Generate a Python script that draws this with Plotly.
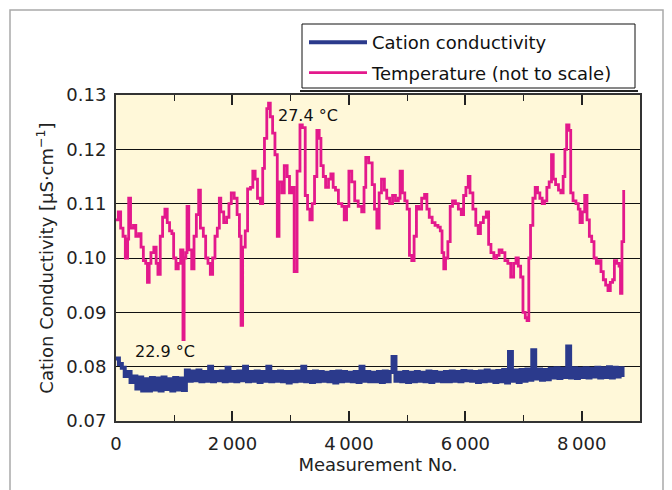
import plotly.graph_objects as go

# ---------------- data ----------------
temp_x = [0, 40, 80, 120, 160, 200, 218, 250, 300, 340, 390, 430, 470, 510, 540, 570, 600, 650, 690, 720,
          760, 800, 840, 880, 920, 960, 990, 1030, 1070, 1110, 1150, 1170, 1200, 1220, 1250, 1300, 1340, 1380, 1420, 1450,
          1500, 1540, 1580, 1620, 1660, 1700, 1740, 1775, 1800, 1850, 1900, 1940, 1980, 2030, 2080, 2120, 2148, 2175, 2220, 2260,
          2310, 2350, 2390, 2430, 2480, 2520, 2550, 2590, 2620, 2650, 2690, 2730, 2770, 2800, 2850, 2890, 2940, 2980, 3020, 3060,
          3110, 3160, 3200, 3250, 3290, 3330, 3370, 3410, 3450, 3490, 3520, 3560, 3600, 3650, 3690, 3730, 3770, 3820, 3880, 3920,
          3960, 4000, 4050, 4100, 4160, 4220, 4260, 4290, 4340, 4400, 4440, 4480, 4520, 4560, 4610, 4650, 4700, 4750, 4800, 4850,
          4880, 4920, 4960, 5000, 5040, 5080, 5120, 5160, 5200, 5250, 5300, 5340, 5380, 5430, 5480, 5530, 5570, 5600, 5630, 5660,
          5700, 5740, 5780, 5830, 5880, 5930, 5970, 6010, 6050, 6080, 6130, 6180, 6220, 6260, 6310, 6360, 6400, 6440, 6490, 6540,
          6580, 6630, 6680, 6730, 6780, 6830, 6870, 6910, 6950, 6990, 7030, 7060, 7090, 7120, 7160, 7200, 7240, 7280, 7320, 7360,
          7400, 7440, 7480, 7510, 7550, 7600, 7640, 7680, 7710, 7740, 7780, 7810, 7850, 7900, 7940, 7970, 8010, 8050, 8090, 8130,
          8170, 8210, 8250, 8290, 8330, 8370, 8410, 8450, 8490, 8530, 8560, 8600, 8640, 8665, 8690, 8720]
temp_y = [0.1070, 0.1085, 0.1055, 0.1040, 0.1000, 0.1035, 0.1110, 0.1055, 0.1060, 0.1040, 0.1045, 0.1020, 0.0995, 0.0990, 0.0955, 0.0990, 0.1010, 0.1020, 0.0990, 0.0970,
          0.1040, 0.1075, 0.1090, 0.1065, 0.1050, 0.1045, 0.1000, 0.0980, 0.0990, 0.1015, 0.0850, 0.1000, 0.1010, 0.1095, 0.1015, 0.0980, 0.1040, 0.1080, 0.1125, 0.1055,
          0.1040, 0.1000, 0.0990, 0.0970, 0.1000, 0.1040, 0.1055, 0.1110, 0.1085, 0.1065, 0.1075, 0.1100, 0.1120, 0.1110, 0.1080, 0.1040, 0.0876, 0.1020, 0.1050, 0.1127,
          0.1130, 0.1160, 0.1145, 0.1110, 0.1100, 0.1165, 0.1220, 0.1275, 0.1285, 0.1260, 0.1230, 0.1190, 0.1040, 0.1140, 0.1120, 0.1170, 0.1150, 0.1120, 0.1130, 0.0975,
          0.1160, 0.1245, 0.1240, 0.1115, 0.1090, 0.1070, 0.1100, 0.1150, 0.1235, 0.1220, 0.1170, 0.1150, 0.1130, 0.1145, 0.1155, 0.1130, 0.1125, 0.1100, 0.1095, 0.1070,
          0.1095, 0.1160, 0.1140, 0.1105, 0.1095, 0.1085, 0.1130, 0.1185, 0.1175, 0.1135, 0.1090, 0.1055, 0.1120, 0.1145, 0.1125, 0.1110, 0.1100, 0.1115, 0.1105, 0.1110,
          0.1160, 0.1120, 0.1105, 0.1090, 0.1005, 0.0995, 0.1040, 0.1095, 0.1090, 0.1110, 0.1117, 0.1090, 0.1075, 0.1065, 0.1060, 0.1057, 0.1050, 0.1010, 0.0980, 0.1000,
          0.1030, 0.1095, 0.1105, 0.1100, 0.1090, 0.1080, 0.1115, 0.1130, 0.1150, 0.1120, 0.1090, 0.1060, 0.1045, 0.1065, 0.1075, 0.1085, 0.1025, 0.1010, 0.1000, 0.1005,
          0.1015, 0.1010, 0.0995, 0.0990, 0.0965, 0.0990, 0.1000, 0.0985, 0.0965, 0.0900, 0.0890, 0.0885, 0.1000, 0.1060, 0.1110, 0.1130, 0.1120, 0.1110, 0.1100, 0.1105,
          0.1130, 0.1140, 0.1190, 0.1145, 0.1135, 0.1125, 0.1120, 0.1150, 0.1200, 0.1245, 0.1235, 0.1120, 0.1105, 0.1100, 0.1090, 0.1065, 0.1085, 0.1115, 0.1070, 0.1040,
          0.1030, 0.1000, 0.0990, 0.0995, 0.0975, 0.0960, 0.0950, 0.0940, 0.0955, 0.0960, 0.0995, 0.0990, 0.0985, 0.0935, 0.1030, 0.1125]

cond_x = list(range(0, 8750, 50))
cond_y = [0.0815, 0.0805, 0.0798, 0.0783, 0.0790, 0.0772, 0.0782, 0.0760, 0.0780, 0.0756,
          0.0777, 0.0756, 0.0779, 0.0758, 0.0778, 0.0756, 0.0780, 0.0759, 0.0777, 0.0756,
          0.0779, 0.0758, 0.0778, 0.0757, 0.0793, 0.0774, 0.0791, 0.0775, 0.0793, 0.0773,
          0.0790, 0.0774, 0.0800, 0.0773, 0.0790, 0.0775, 0.0791, 0.0773, 0.0798, 0.0774,
          0.0790, 0.0773, 0.0791, 0.0775, 0.0800, 0.0773, 0.0790, 0.0774, 0.0791, 0.0772,
          0.0790, 0.0774, 0.0800, 0.0773, 0.0790, 0.0774, 0.0791, 0.0773, 0.0790, 0.0771,
          0.0790, 0.0773, 0.0791, 0.0774, 0.0800, 0.0773, 0.0790, 0.0772, 0.0791, 0.0773,
          0.0790, 0.0774, 0.0789, 0.0773, 0.0790, 0.0771, 0.0791, 0.0773, 0.0790, 0.0774,
          0.0789, 0.0773, 0.0790, 0.0772, 0.0800, 0.0774, 0.0790, 0.0773, 0.0789, 0.0773,
          0.0790, 0.0772, 0.0791, 0.0773, 0.0790, 0.0818, 0.0774, 0.0789, 0.0773, 0.0790,
          0.0772, 0.0789, 0.0773, 0.0790, 0.0774, 0.0789, 0.0773, 0.0791, 0.0772, 0.0790,
          0.0774, 0.0789, 0.0773, 0.0790, 0.0773, 0.0791, 0.0774, 0.0790, 0.0773, 0.0792,
          0.0775, 0.0791, 0.0774, 0.0790, 0.0772, 0.0791, 0.0773, 0.0793, 0.0774, 0.0791,
          0.0772, 0.0792, 0.0773, 0.0794, 0.0771, 0.0827, 0.0774, 0.0793, 0.0772, 0.0794,
          0.0774, 0.0795, 0.0776, 0.0830, 0.0778, 0.0795, 0.0776, 0.0794, 0.0777, 0.0796,
          0.0780, 0.0797, 0.0779, 0.0796, 0.0781, 0.0837, 0.0780, 0.0797, 0.0779, 0.0796,
          0.0781, 0.0797, 0.0780, 0.0796, 0.0782, 0.0798, 0.0780, 0.0797, 0.0781, 0.0799,
          0.0780, 0.0798, 0.0782, 0.0797, 0.0781]

x_ticks = [0, 2000, 4000, 6000, 8000]
x_ticktext = ["0", "2\u2009000", "4\u2009000", "6\u2009000", "8\u2009000"]
y_ticks = [0.07, 0.08, 0.09, 0.10, 0.11, 0.12, 0.13]
y_ticktext = ["0.07", "0.08", "0.09", "0.10", "0.11", "0.12", "0.13"]

series_names = ["Cation conductivity", "Temperature (not to scale)"]
annot_max = (2740, 0.1262, "27.4 °C")
annot_min = (290, 0.0828, "22.9 °C")

# ---------------- figure ----------------
W, H = 672, 490
L, R, T, B = 116, 32, 95, 69
pw, ph = W - L - R, H - T - B


def px_x(p):
    return (p - L) / pw


def px_y(p):
    return (H - B - p) / ph


FONT = "DejaVu Sans, Verdana, sans-serif"
BLUE = "#2B3A8C"
MAGENTA = "#E3198C"

fig = go.Figure()
fig.add_trace(go.Scatter(x=cond_x, y=cond_y, mode="lines", name=series_names[0],
                         legendgroup="a",
                         line=dict(color=BLUE, width=4, shape="hv")))
fig.add_trace(go.Scatter(x=temp_x, y=temp_y, mode="lines", name=series_names[1],
                         legendgroup="b",
                         line=dict(color=MAGENTA, width=2.8, shape="hv")))

for ax, ay, txt in (annot_max, annot_min):
    fig.add_annotation(x=ax, y=ay, text=txt, showarrow=False, xanchor="left", yanchor="middle",
                       font=dict(family=FONT, size=16, color="#111"))

# outer gray frame
fig.add_shape(type="rect", xref="paper", yref="paper",
              x0=px_x(10), x1=px_x(663), y0=px_y(500), y1=px_y(10),
              line=dict(color="#A9A9A9", width=1.5), fillcolor="rgba(0,0,0,0)", layer="below")
# legend box
fig.add_shape(type="rect", xref="paper", yref="paper",
              x0=px_x(302), x1=px_x(635), y0=px_y(88), y1=px_y(24),
              line=dict(color="#111", width=1), fillcolor="white", layer="above")
# legend bottom shadow line
fig.add_shape(type="line", xref="paper", yref="paper",
              x0=px_x(300), x1=px_x(638), y0=px_y(91), y1=px_y(91),
              line=dict(color="#222", width=2))

fig.update_layout(
    width=W, height=H,
    margin=dict(l=L, r=R, t=T, b=B),
    paper_bgcolor="white",
    plot_bgcolor="#FFF8D9",
    font=dict(family=FONT, size=18, color="#222"),
    showlegend=True,
    legend=dict(x=px_x(304), y=px_y(24), xanchor="left", yanchor="top",
                bgcolor="rgba(0,0,0,0)", borderwidth=0,
                font=dict(family=FONT, size=18, color="#111"),
                tracegroupgap=4, itemwidth=58),
    xaxis=dict(range=[0, 9000], tickvals=x_ticks, ticktext=x_ticktext,
               ticks="inside", ticklen=10, tickwidth=1.5, tickcolor="#222",
               minor=dict(dtick=1000, ticks="inside", ticklen=6, tickwidth=1.2, tickcolor="#222"),
               showgrid=False, zeroline=False,
               showline=True, linecolor="#333", linewidth=2, mirror="ticks",
               ticklabelstandoff=5,
               title=dict(text="Measurement No.", standoff=4, font=dict(size=18))),
    yaxis=dict(range=[0.07, 0.13], tickvals=y_ticks, ticktext=y_ticktext,
               ticks="", showgrid=True, gridcolor="#111", gridwidth=1,
               zeroline=False, showline=True, linecolor="#333", linewidth=2, mirror=True,
               ticklabelstandoff=4,
               title=dict(text="Cation Conductivity [µS·cm<sup>−1</sup>]", standoff=8, font=dict(size=18))),
)

fig.write_html("out.html")
